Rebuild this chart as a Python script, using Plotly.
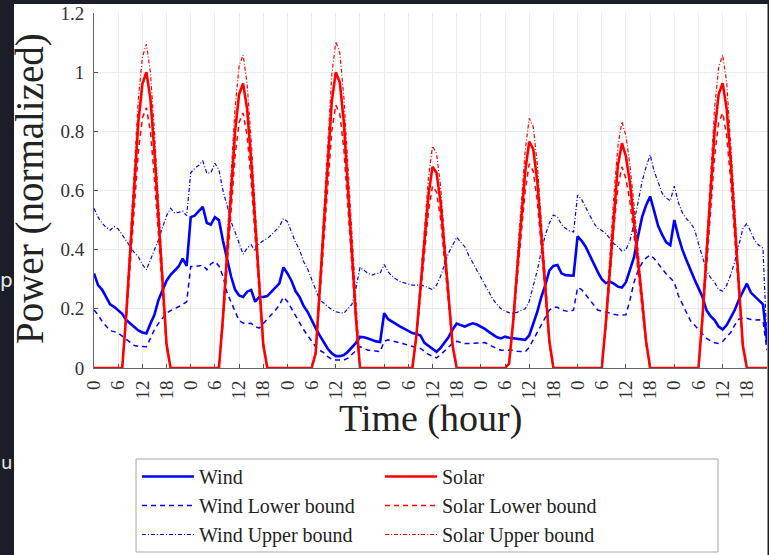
import plotly.graph_objects as go

# ---------------- data (hourly, 7 days) ----------------
hours = list(range(168))

wind = [
    0.32, 0.28, 0.265, 0.24, 0.215, 0.207, 0.195, 0.183, 0.162, 0.15, 0.138, 0.127, 0.12, 0.117, 0.15, 0.18, 0.23, 0.265, 0.295, 0.315, 0.33, 0.343, 0.37, 0.345,
    0.51, 0.515, 0.53, 0.545, 0.49, 0.485, 0.51, 0.5, 0.43, 0.37, 0.31, 0.265, 0.245, 0.24, 0.258, 0.264, 0.224, 0.24, 0.24, 0.243, 0.257, 0.272, 0.286, 0.34,
    0.32, 0.295, 0.26, 0.24, 0.21, 0.19, 0.16, 0.135, 0.11, 0.085, 0.065, 0.05, 0.04, 0.04, 0.044, 0.055, 0.07, 0.085, 0.105, 0.104, 0.1, 0.094, 0.09, 0.088,
    0.185, 0.165, 0.155, 0.148, 0.14, 0.132, 0.125, 0.118, 0.115, 0.11, 0.085, 0.075, 0.063, 0.055, 0.068, 0.085, 0.105, 0.13, 0.15, 0.145, 0.14, 0.146, 0.151, 0.147,
    0.14, 0.132, 0.122, 0.112, 0.104, 0.1, 0.106, 0.102, 0.1, 0.097, 0.095, 0.095, 0.11, 0.15, 0.19, 0.24, 0.28, 0.33, 0.345, 0.348, 0.32, 0.314, 0.314, 0.312,
    0.445, 0.43, 0.41, 0.38, 0.35, 0.325, 0.3, 0.287, 0.292, 0.285, 0.275, 0.272, 0.29, 0.33, 0.375, 0.445, 0.51, 0.55, 0.58, 0.53, 0.48, 0.45, 0.425, 0.415,
    0.5, 0.445, 0.4, 0.365, 0.33, 0.3, 0.27, 0.24, 0.195, 0.175, 0.162, 0.14, 0.13, 0.145, 0.17, 0.196, 0.23, 0.26, 0.285, 0.255, 0.242, 0.23, 0.215, 0.09,
]

wind_upper = [
    0.54, 0.51, 0.49, 0.475, 0.466, 0.478, 0.47, 0.452, 0.43, 0.41, 0.39, 0.376, 0.35, 0.332, 0.365, 0.4, 0.433, 0.475, 0.515, 0.54, 0.524, 0.526, 0.53, 0.515,
    0.66, 0.675, 0.685, 0.7, 0.658, 0.66, 0.692, 0.67, 0.6, 0.55, 0.495, 0.46, 0.42, 0.385, 0.405, 0.416, 0.395, 0.42, 0.43, 0.438, 0.45, 0.465, 0.478, 0.505,
    0.495, 0.46, 0.425, 0.4, 0.36, 0.335, 0.3, 0.265, 0.23, 0.22, 0.207, 0.198, 0.19, 0.187, 0.185, 0.2, 0.215, 0.27, 0.34, 0.33, 0.32, 0.314, 0.32, 0.32,
    0.35, 0.325, 0.31, 0.3, 0.292, 0.288, 0.284, 0.28, 0.28, 0.28, 0.277, 0.27, 0.265, 0.28, 0.31, 0.35, 0.39, 0.415, 0.442, 0.425, 0.41, 0.38, 0.355, 0.33,
    0.305, 0.283, 0.255, 0.232, 0.215, 0.2, 0.192, 0.187, 0.185, 0.188, 0.195, 0.2, 0.225, 0.275, 0.33, 0.395, 0.45, 0.49, 0.517, 0.51, 0.485, 0.472, 0.463, 0.46,
    0.585, 0.57, 0.545, 0.515, 0.49, 0.472, 0.465, 0.455, 0.438, 0.42, 0.41, 0.395, 0.4, 0.43, 0.49, 0.56, 0.63, 0.68, 0.72, 0.665, 0.625, 0.59, 0.575, 0.565,
    0.615, 0.56, 0.525, 0.505, 0.49, 0.47, 0.42, 0.375, 0.33, 0.305, 0.29, 0.265, 0.26, 0.28, 0.315, 0.36, 0.42, 0.47, 0.489, 0.46, 0.43, 0.415, 0.405, 0.08,
]

wind_lower = [
    0.196, 0.18, 0.158, 0.14, 0.126, 0.123, 0.118, 0.108, 0.097, 0.085, 0.076, 0.073, 0.072, 0.072, 0.1, 0.13, 0.151, 0.17, 0.185, 0.194, 0.2, 0.207, 0.215, 0.224,
    0.343, 0.343, 0.345, 0.348, 0.332, 0.352, 0.36, 0.345, 0.31, 0.255, 0.222, 0.19, 0.16, 0.152, 0.15, 0.151, 0.14, 0.135, 0.15, 0.165, 0.178, 0.195, 0.213, 0.24,
    0.225, 0.2, 0.178, 0.155, 0.13, 0.11, 0.09, 0.072, 0.06, 0.052, 0.038, 0.03, 0.027, 0.027, 0.027, 0.033, 0.045, 0.058, 0.072, 0.066, 0.06, 0.06, 0.058, 0.055,
    0.09, 0.095, 0.092, 0.089, 0.086, 0.081, 0.077, 0.072, 0.069, 0.066, 0.055, 0.046, 0.04, 0.034, 0.045, 0.058, 0.072, 0.084, 0.09, 0.086, 0.083, 0.083, 0.083, 0.083,
    0.085, 0.086, 0.08, 0.072, 0.065, 0.06, 0.06, 0.06, 0.06, 0.057, 0.055, 0.055, 0.07, 0.095, 0.12, 0.145, 0.175, 0.196, 0.205, 0.205, 0.196, 0.192, 0.19, 0.196,
    0.272, 0.265, 0.248, 0.23, 0.21, 0.196, 0.192, 0.19, 0.186, 0.182, 0.179, 0.179, 0.18, 0.23, 0.29, 0.33, 0.355, 0.372, 0.382, 0.37, 0.354, 0.335, 0.318, 0.305,
    0.29, 0.245, 0.215, 0.185, 0.16, 0.145, 0.13, 0.117, 0.1, 0.092, 0.085, 0.083, 0.09, 0.105, 0.12, 0.145, 0.165, 0.168, 0.168, 0.164, 0.162, 0.163, 0.16, 0.06,
]

solar = [
    0, 0, 0, 0, 0, 0, 0, 0, 0.18, 0.40, 0.62, 0.83, 0.96, 1.00, 0.91, 0.73, 0.51, 0.29, 0.08, 0, 0, 0, 0, 0,
    0, 0, 0, 0, 0, 0, 0, 0, 0.17, 0.385, 0.60, 0.80, 0.925, 0.962, 0.875, 0.70, 0.49, 0.28, 0.08, 0, 0, 0, 0, 0,
    0, 0, 0, 0, 0, 0, 0, 0.05, 0.26, 0.48, 0.71, 0.90, 1.00, 0.965, 0.83, 0.62, 0.40, 0.17, 0, 0, 0, 0, 0, 0,
    0, 0, 0, 0, 0, 0, 0, 0, 0.11, 0.27, 0.435, 0.585, 0.68, 0.66, 0.56, 0.41, 0.24, 0.075, 0, 0, 0, 0, 0, 0,
    0, 0, 0, 0, 0, 0, 0, 0.015, 0.155, 0.33, 0.51, 0.665, 0.765, 0.74, 0.63, 0.46, 0.275, 0.09, 0, 0, 0, 0, 0, 0,
    0, 0, 0, 0, 0, 0, 0, 0.15, 0.34, 0.53, 0.685, 0.76, 0.715, 0.625, 0.50, 0.365, 0.23, 0.09, 0, 0, 0, 0, 0, 0,
    0, 0, 0, 0, 0, 0, 0, 0.175, 0.385, 0.60, 0.80, 0.925, 0.963, 0.875, 0.70, 0.49, 0.28, 0.077, 0, 0, 0, 0, 0, 0,
]

solar_upper = [
    0, 0, 0, 0, 0, 0, 0, 0, 0.20, 0.44, 0.68, 0.91, 1.05, 1.095, 1.00, 0.80, 0.56, 0.32, 0.09, 0, 0, 0, 0, 0,
    0, 0, 0, 0, 0, 0, 0, 0, 0.19, 0.42, 0.66, 0.88, 1.02, 1.058, 0.96, 0.77, 0.54, 0.31, 0.085, 0, 0, 0, 0, 0,
    0, 0, 0, 0, 0, 0, 0, 0.055, 0.29, 0.53, 0.78, 0.99, 1.103, 1.065, 0.915, 0.685, 0.44, 0.19, 0, 0, 0, 0, 0, 0,
    0, 0, 0, 0, 0, 0, 0, 0, 0.12, 0.30, 0.48, 0.645, 0.75, 0.725, 0.615, 0.45, 0.26, 0.08, 0, 0, 0, 0, 0, 0,
    0, 0, 0, 0, 0, 0, 0, 0.017, 0.17, 0.365, 0.565, 0.735, 0.844, 0.815, 0.69, 0.505, 0.305, 0.10, 0, 0, 0, 0, 0, 0,
    0, 0, 0, 0, 0, 0, 0, 0.165, 0.375, 0.585, 0.75, 0.833, 0.785, 0.685, 0.55, 0.40, 0.25, 0.10, 0, 0, 0, 0, 0, 0,
    0, 0, 0, 0, 0, 0, 0, 0.19, 0.425, 0.655, 0.88, 1.015, 1.058, 0.965, 0.77, 0.54, 0.305, 0.085, 0, 0, 0, 0, 0, 0,
]

solar_lower = [
    0, 0, 0, 0, 0, 0, 0, 0, 0.16, 0.35, 0.55, 0.73, 0.845, 0.88, 0.80, 0.64, 0.45, 0.255, 0.07, 0, 0, 0, 0, 0,
    0, 0, 0, 0, 0, 0, 0, 0, 0.15, 0.345, 0.535, 0.715, 0.83, 0.862, 0.785, 0.63, 0.44, 0.25, 0.07, 0, 0, 0, 0, 0,
    0, 0, 0, 0, 0, 0, 0, 0.045, 0.23, 0.425, 0.63, 0.80, 0.889, 0.858, 0.74, 0.55, 0.355, 0.15, 0, 0, 0, 0, 0, 0,
    0, 0, 0, 0, 0, 0, 0, 0, 0.10, 0.245, 0.395, 0.53, 0.615, 0.595, 0.505, 0.37, 0.215, 0.07, 0, 0, 0, 0, 0, 0,
    0, 0, 0, 0, 0, 0, 0, 0.014, 0.14, 0.30, 0.46, 0.60, 0.69, 0.665, 0.565, 0.415, 0.25, 0.08, 0, 0, 0, 0, 0, 0,
    0, 0, 0, 0, 0, 0, 0, 0.135, 0.305, 0.475, 0.61, 0.68, 0.64, 0.56, 0.45, 0.325, 0.205, 0.08, 0, 0, 0, 0, 0, 0,
    0, 0, 0, 0, 0, 0, 0, 0.155, 0.345, 0.535, 0.715, 0.83, 0.862, 0.785, 0.63, 0.44, 0.25, 0.07, 0, 0, 0, 0, 0, 0,
]

x_tick_vals = [0, 6, 12, 18, 24, 30, 36, 42, 48, 54, 60, 66, 72, 78, 84, 90,
               96, 102, 108, 114, 120, 126, 132, 138, 144, 150, 156, 162]
x_tick_text = ["0", "6", "12", "18"] * 7
y_tick_vals = [0, 0.2, 0.4, 0.6, 0.8, 1.0, 1.2]
y_tick_text = ["0", "0.2", "0.4", "0.6", "0.8", "1", "1.2"]

# ---------------- figure ----------------
W, H = 769, 555
L, R, T, B = 94, 2, 13, 187
PW, PH = W - L - R, H - T - B


def px(X):
    return (X - L) / PW


def py(Y):
    return (H - B - Y) / PH


def cx(X):
    return X / W


def cy(Y):
    return 1 - Y / H


SERIF = "Liberation Serif"
BLUE = "#0000ff"
RED = "#ff0000"
DASH = "5px,4px"
DASHDOT = "4px,2px,1px,2px"

fig = go.Figure()

series = [
    ("Wind", wind, BLUE, "solid", 2.6, "legend", 1),
    ("Wind Lower bound", wind_lower, BLUE, DASH, 1.5, "legend", 2),
    ("Wind Upper bound", wind_upper, BLUE, DASHDOT, 1.2, "legend", 3),
    ("Solar", solar, RED, "solid", 2.6, "legend2", 1),
    ("Solar Lower bound", solar_lower, RED, DASH, 1.5, "legend2", 2),
    ("Solar Upper bound", solar_upper, RED, DASHDOT, 1.2, "legend2", 3),
]
for name, vals, col, dash, lw, leg, rank in series:
    fig.add_trace(go.Scatter(
        x=hours, y=vals, mode="lines", name=name,
        line=dict(color=col, width=lw, dash=dash),
        legend=leg, legendrank=rank, hoverinfo="skip",
    ))

axis_font = dict(family=SERIF, size=19, color="#333333")
leg_font = dict(family=SERIF, size=20, color="#222222")

fig.update_layout(
    width=W, height=H,
    margin=dict(l=L, r=R, t=T, b=B, pad=0, autoexpand=False),
    paper_bgcolor="white", plot_bgcolor="white",
    showlegend=True,
    legend=dict(
        xref="container", yref="container",
        x=cx(137), y=cy(457), xanchor="left", yanchor="top",
        orientation="v", bgcolor="rgba(0,0,0,0)", borderwidth=0,
        font=leg_font, itemwidth=52, tracegroupgap=0,
    ),
    legend2=dict(
        xref="container", yref="container",
        x=cx(380), y=cy(457), xanchor="left", yanchor="top",
        orientation="v", bgcolor="rgba(0,0,0,0)", borderwidth=0,
        font=leg_font, itemwidth=52, tracegroupgap=0,
    ),
    xaxis=dict(
        range=[0, 167], tickmode="array", tickvals=x_tick_vals, ticktext=x_tick_text,
        tickangle=-90, tickfont=axis_font, ticks="inside", ticklen=4, tickcolor="#555555",
        showgrid=True, gridcolor="#ebebeb", gridwidth=1,
        showline=True, linecolor="#666666", linewidth=1, zeroline=False,
        ticklabelstandoff=4, automargin=False,
    ),
    yaxis=dict(
        range=[0, 1.2], tickmode="array", tickvals=y_tick_vals, ticktext=y_tick_text,
        tickfont=axis_font, ticks="inside", ticklen=4, tickcolor="#555555",
        showgrid=True, gridcolor="#ebebeb", gridwidth=1,
        showline=True, linecolor="#666666", linewidth=1, zeroline=False,
        ticklabelstandoff=5, automargin=False,
    ),
)

DARK = "#1b1e28"
shapes = [
    # legend box
    dict(type="rect", xref="paper", yref="paper",
         x0=px(136), x1=px(718), y0=py(552), y1=py(459),
         line=dict(color="#a6a6a6", width=1), fillcolor="white", layer="below"),
    # dark screenshot border (top, left, right)
    dict(type="rect", xref="paper", yref="paper",
         x0=px(-5), x1=px(W + 5), y0=py(4), y1=py(-5),
         line=dict(width=0), fillcolor=DARK, layer="above"),
    dict(type="rect", xref="paper", yref="paper",
         x0=px(-5), x1=px(14), y0=py(H + 5), y1=py(-5),
         line=dict(width=0), fillcolor=DARK, layer="above"),
    dict(type="rect", xref="paper", yref="paper",
         x0=px(767.5), x1=px(W + 5), y0=py(H + 5), y1=py(-5),
         line=dict(width=0), fillcolor=DARK, layer="above"),
]
fig.update_layout(shapes=shapes)

annotations = [
    dict(text="Power (normalized)", xref="paper", yref="paper",
         x=px(30), y=py(189), xanchor="center", yanchor="middle",
         textangle=-90, showarrow=False,
         font=dict(family=SERIF, size=39, color="#222222")),
    dict(text="Time (hour)", xref="paper", yref="paper",
         x=px(430), y=py(418), xanchor="center", yanchor="middle",
         showarrow=False,
         font=dict(family=SERIF, size=38, color="#222222")),
    dict(text="p", xref="paper", yref="paper",
         x=px(7), y=py(280), xanchor="center", yanchor="middle",
         showarrow=False, font=dict(family="DejaVu Sans", size=20, color="#e8e8e8")),
    dict(text="u", xref="paper", yref="paper",
         x=px(7), y=py(462), xanchor="center", yanchor="middle",
         showarrow=False, font=dict(family="DejaVu Sans", size=18, color="#e8e8e8")),
]
fig.update_layout(annotations=annotations)

fig.write_html(
    "out.html",
    config={"displayModeBar": False},
    post_script="document.body.style.margin='0px';document.body.style.padding='0px';",
)
